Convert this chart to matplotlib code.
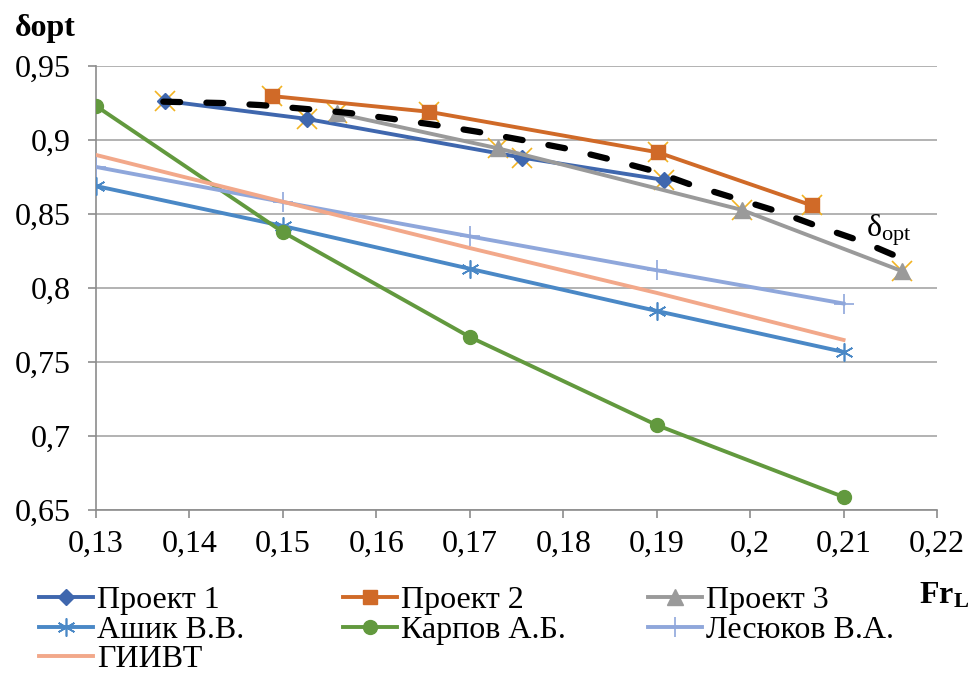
import matplotlib
matplotlib.use('Agg')
import matplotlib.pyplot as plt
import numpy as np
from matplotlib.ticker import FuncFormatter, MultipleLocator

plt.rcParams['font.family'] = ['Liberation Serif', 'DejaVu Serif']
plt.rcParams['mathtext.fontset'] = 'custom'
plt.rcParams['mathtext.rm'] = 'Liberation Serif'
plt.rcParams['mathtext.bf'] = 'Liberation Serif:bold'
plt.rcParams['mathtext.it'] = 'Liberation Serif:italic'

# данные проектов
p1_x = [0.1374, 0.1526, 0.1756, 0.1908]
p1_y = [0.9264, 0.9142, 0.8881, 0.8730]
p2_x = [0.1488, 0.1656, 0.1901, 0.2066]
p2_y = [0.9297, 0.9191, 0.8917, 0.8558]
p3_x = [0.1558, 0.1730, 0.1991, 0.2163]
p3_y = [0.9180, 0.8944, 0.8528, 0.8113]

# методики
fr = [0.13, 0.15, 0.17, 0.19, 0.21]
ashik = [0.8689, 0.8419, 0.8130, 0.7845, 0.7568]
karpov = [0.9230, 0.8378, 0.7669, 0.7074, 0.6588]
lesyukov = [0.8818, 0.8581, 0.8349, 0.8120, 0.7895]
giivt = [0.8899, 0.8583, 0.8270, 0.7967, 0.7649]

# линия delta_opt (пунктир)
opt_x = [0.1372, 0.1433, 0.1476, 0.1526, 0.1572, 0.1618, 0.1664, 0.1708, 0.1756, 0.1802,
         0.1846, 0.1893, 0.1937, 0.1983, 0.2029, 0.2073, 0.2119, 0.2161, 0.2166]
opt_y = [0.9259, 0.9250, 0.9236, 0.9209, 0.9182, 0.9142, 0.9101, 0.9056, 0.9000, 0.8944,
         0.8876, 0.8797, 0.8697, 0.8608, 0.8518, 0.8416, 0.8316, 0.8203, 0.8189]

fs = 23
serif = ['Liberation Serif', 'DejaVu Serif']
fig = plt.figure(figsize=(9.71, 6.78), dpi=100)
ax = fig.add_axes([96/971, 1-510/678, (937-96)/971, (510-66)/678])

all_x = np.concatenate([p1_x, p2_x, p3_x])
all_y = np.concatenate([p1_y, p2_y, p3_y])
ax.plot(all_x, all_y, ls='none', marker='x', ms=14, mew=1.2, color='#F2B322', zorder=2)

lw = 2.8
l1, = ax.plot(p1_x, p1_y, color='#3F67AE', lw=lw, marker='D', ms=8, zorder=3, label='Проект 1')
l2, = ax.plot(p2_x, p2_y, color='#D06A28', lw=lw, marker='s', ms=10, zorder=3, label='Проект 2')
l3, = ax.plot(p3_x, p3_y, color='#9A9A9A', lw=lw, marker='^', ms=11, zorder=3, label='Проект 3')
l4, = ax.plot(fr, ashik, color='#4A88C6', lw=lw, marker=(6, 2, 0), ms=13, mew=1.2, zorder=3, label='Ашик В.В.')
l5, = ax.plot(fr, karpov, color='#62993E', lw=lw, marker='o', ms=10, zorder=3, label='Карпов А.Б.')
l6, = ax.plot(fr, lesyukov, color='#8FA7DB', lw=lw, marker='+', ms=14, mew=1.2, zorder=3, label='Лесюков В.А.')
l7, = ax.plot(fr, giivt, color='#F2A88A', lw=lw, zorder=3, label='ГИИВТ')

ax.plot(opt_x, opt_y, color='black', lw=4.5, ls=(0, (2.7, 4.2)), dash_capstyle='round', zorder=4)
ax.text(0.2124, 0.8351, r'δ$_{\rm opt}$', fontsize=fs, va='baseline', ha='left', family=serif)

ax.set_xlim(0.13, 0.22)
ax.set_ylim(0.65, 0.95)
ax.xaxis.set_major_locator(MultipleLocator(0.01))
ax.yaxis.set_major_locator(MultipleLocator(0.05))

def comma(v, pos):
    s = ('%.2f' % v).rstrip('0').rstrip('.')
    return s.replace('.', ',')

ax.xaxis.set_major_formatter(FuncFormatter(comma))
ax.yaxis.set_major_formatter(FuncFormatter(comma))
ax.tick_params(labelsize=fs, length=6, width=1.2, color='#8C8C8C')
ax.tick_params(axis='x', pad=8)
ax.tick_params(axis='y', pad=12)
for lab in ax.get_xticklabels() + ax.get_yticklabels():
    lab.set_family(serif)
ax.grid(axis='y', color='#A6A6A6', lw=1.2)
ax.set_axisbelow(True)
for s in ['top', 'right']:
    ax.spines[s].set_visible(False)
for s in ['left', 'bottom']:
    ax.spines[s].set_color('#8C8C8C')
    ax.spines[s].set_linewidth(1.2)

fig.text(15/971, 1-36/678, 'δopt', fontsize=fs, fontweight='bold', va='baseline', family=serif)
fig.text(919/971, 1-603/678, r'$\mathbf{Fr_L}$', fontsize=fs, va='baseline')

cols = [[l1, l4, l7], [l2, l5], [l3, l6]]
xs = [39, 343, 648]
for hs, x0 in zip(cols, xs):
    leg = fig.legend(handles=hs, loc='upper left', bbox_to_anchor=(x0/971, 1-586/678),
                     frameon=False, prop={'family': serif, 'size': fs},
                     handlelength=1.7, handletextpad=0.12,
                     labelspacing=0.0, borderpad=0, borderaxespad=0)

fig.savefig('out.png', dpi=100)
